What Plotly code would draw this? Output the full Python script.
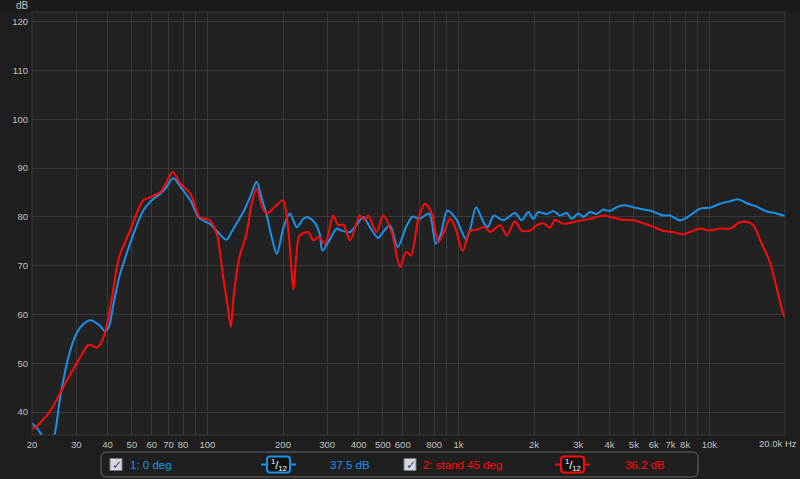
import plotly.graph_objects as go

# ---------------- data ----------------
blue_freq = [20, 21, 21.8, 22.6, 23.5, 24.5, 25.9, 27.9, 30.2, 32, 34.1, 36, 37.3, 39.1, 40.5, 42.2,
             44.7, 46.2, 50, 55.5, 60, 65, 68, 73, 78, 85.5, 93, 102, 110, 119, 125, 130, 139, 148,
             157, 164, 172, 180, 189, 201, 213, 227, 240, 249, 267, 280, 287, 308, 327, 342, 370,
             392, 417, 444, 478, 501, 533, 573, 618, 657, 697, 764, 812, 851, 903, 978, 1070, 1110,
             1176, 1258, 1306, 1386, 1509, 1680, 1786, 1898, 1987, 2080, 2247, 2388, 2538, 2700,
             2826, 3000, 3150, 3344, 3550, 3778, 4000, 4272, 4538, 4974, 5452, 5798, 6548, 6966,
             7634, 8366, 9170, 10054, 11016, 12076, 13032, 14078, 15432, 16910, 18252, 19690, 20000]
blue_db = [37.7, 36.6, 35.4, 34.2, 33.8, 35.1, 43.0, 51.2, 56.3, 58.0, 58.8, 58.3, 57.7, 56.6, 57.5, 62.1,
           68.0, 70.4, 75.6, 81.3, 83.4, 84.8, 85.8, 88.0, 86.2, 83.4, 79.7, 78.6, 76.9, 75.3, 77.0, 78.5, 81.0, 84.1,
           87.2, 84.0, 80.5, 76.0, 72.4, 77.9, 80.7, 77.9, 79.5, 80.0, 78.9, 76.5, 73.1, 75.5, 77.6, 77.2, 76.9,
           78.3, 80.0, 77.9, 75.7, 76.9, 78.3, 73.8, 77.9, 80.1, 79.6, 80.7, 74.5, 76.5, 81.3, 79.6, 75.5, 77.2,
           82.0, 78.9, 77.9, 80.3, 79.3, 80.8, 79.3, 81.0, 79.6, 81.0, 80.6, 81.2, 80.3, 80.8,
           79.6, 80.7, 80.0, 81.0, 80.6, 81.5, 81.2, 82.0, 82.4, 82.0, 81.5, 81.3, 80.3, 80.3,
           79.3, 80.3, 81.7, 81.9, 82.7, 83.2, 83.6, 82.8, 82.1, 81.1, 80.8, 80.3, 80.3]

red_freq = [20, 21, 22, 23.6, 25.5, 27.5, 30.2, 32, 33.5, 35, 36.2, 37.5, 39.1, 42.1, 43.3, 44.7, 49.2,
            55.5, 59.6, 65, 68.5, 72.6, 78, 85.5, 93, 102, 109, 112, 115.6, 120, 124, 127, 134, 143,
            150, 157, 165, 172, 185, 200, 210, 215, 220, 226, 233, 252, 264, 277, 294, 317, 332, 348,
            370, 405, 424, 437, 472, 501, 542, 585, 618, 647, 692, 736, 783, 831, 880, 925, 969, 1040,
            1110, 1180, 1276, 1336, 1466, 1557, 1680, 1786, 1928, 2052, 2180, 2316, 2425, 2616, 2960,
            3344, 3778, 4017, 4538, 4974, 5452, 5973, 6548, 7178, 7866, 8366, 9170, 10054, 11016,
            12076, 13235, 14285, 14950, 16155, 17424, 19690, 20000]
red_db = [36.5, 37.2, 38.3, 40.2, 43.2, 46.4, 50.1, 52.3, 53.8, 53.5, 53.2, 54.0, 56.3, 64.9, 69.0, 72.1, 77.2,
          83.4, 84.1, 85.1, 87.0, 89.2, 86.8, 84.8, 80.0, 79.3, 76.5, 73.0, 67.6, 62.2, 57.5, 63.5, 71.7, 76.5,
          82.7, 85.8, 82.0, 80.7, 82.0, 83.4, 77.2, 71.0, 65.0, 72.0, 76.2, 76.9, 75.2, 75.9, 74.5, 80.3, 78.3, 78.4,
          75.2, 80.3, 79.3, 80.3, 76.9, 80.3, 76.9, 69.7, 72.8, 72.1, 79.6, 82.7, 80.7, 74.8, 77.2, 79.6, 77.9, 73.0,
          77.1, 77.4, 77.9, 76.9, 78.3, 76.2, 79.1, 77.2, 77.2, 78.3, 78.7, 77.8, 79.4, 78.6, 79.1,
          79.6, 80.3, 80.0, 79.4, 79.3, 78.7, 78.0, 77.1, 76.9, 76.4, 76.9, 77.6, 77.2, 77.6,
          77.6, 78.9, 78.9, 78.3, 74.5, 70.7, 60.1, 59.5]

x_grid = [20, 30, 40, 50, 60, 70, 80, 90, 100, 200, 300, 400, 500, 600, 700, 800, 900,
          1000, 2000, 3000, 4000, 5000, 6000, 7000, 8000, 9000, 10000, 20000]
x_labels = ["20", "30", "40", "50", "60", "70", "80", "", "100", "200", "300", "400", "500", "600", "",
            "800", "", "1k", "2k", "3k", "4k", "5k", "6k", "7k", "8k", "", "10k", ""]
y_ticks = [40, 50, 60, 70, 80, 90, 100, 110, 120]

series_names = ["1: 0 deg", "2: stand 45 deg"]
series_levels = ["37.5 dB", "36.2 dB"]

BLUE = "#1a92ea"
RED = "#ff0a0a"

# ---------------- layout geometry (pixels) ----------------
W, H = 800, 479
L, R, T, B = 32, 15, 12, 44
PW, PH = W - L - R, H - T - B


def px(x):
    return (x - L) / PW


def py(y):
    return (H - B - y) / PH


fig = go.Figure()
fig.add_trace(go.Scatter(x=blue_freq, y=blue_db, mode="lines", name=series_names[0],
                         line=dict(color=BLUE, width=2, shape="spline", smoothing=0.8),
                         hoverinfo="x+y"))
fig.add_trace(go.Scatter(x=red_freq, y=red_db, mode="lines", name=series_names[1],
                         line=dict(color=RED, width=2, shape="spline", smoothing=0.8),
                         hoverinfo="x+y"))

shapes = []
annotations = []

# darker band above plot
shapes.append(dict(type="rect", xref="paper", yref="paper", x0=px(0), x1=px(W), y0=py(T), y1=py(0),
                   fillcolor="#1a1a1a", line=dict(width=0), layer="below"))
# plot border
shapes.append(dict(type="rect", xref="paper", yref="paper", x0=0, x1=1, y0=0, y1=1,
                   line=dict(color="#383838", width=1), fillcolor="rgba(0,0,0,0)"))


def rounded(x0, y0, x1, y1, r):
    rx = r / PW
    ry = r / PH
    X0, X1 = px(x0), px(x1)
    Y0, Y1 = py(y1), py(y0)  # bottom, top in paper
    return (f"M {X0+rx},{Y1} L {X1-rx},{Y1} Q {X1},{Y1} {X1},{Y1-ry} "
            f"L {X1},{Y0+ry} Q {X1},{Y0} {X1-rx},{Y0} L {X0+rx},{Y0} "
            f"Q {X0},{Y0} {X0},{Y0+ry} L {X0},{Y1-ry} Q {X0},{Y1} {X0+rx},{Y1} Z")


# legend box
shapes.append(dict(type="path", xref="paper", yref="paper", path=rounded(101, 452, 698, 477, 6),
                   line=dict(color="#6a6a6a", width=1), fillcolor="#1f1f1f"))

items = [
    dict(cb=110, name_x=128, icon=(261, 267, 290, 296), lvl_x=328, color=BLUE,
         name=series_names[0], lvl=series_levels[0]),
    dict(cb=404, name_x=421, icon=(555, 561, 584, 590), lvl_x=623, color=RED,
         name=series_names[1], lvl=series_levels[1]),
]
cy = 464.5
for it in items:
    # checkbox
    shapes.append(dict(type="rect", xref="paper", yref="paper", x0=px(it["cb"]), x1=px(it["cb"] + 12),
                       y0=py(cy + 6), y1=py(cy - 6), fillcolor="#d8d8dc", line=dict(color="#7a7a7a", width=1)))
    annotations.append(dict(xref="paper", yref="paper", x=px(it["cb"] + 6.5), y=py(cy), text="✓",
                            showarrow=False, xanchor="center", yanchor="middle",
                            font=dict(family="DejaVu Sans", size=12, color="#2c4c9c")))
    # name
    annotations.append(dict(xref="paper", yref="paper", x=px(it["name_x"]), y=py(cy), text=it["name"],
                            showarrow=False, xanchor="left", yanchor="middle",
                            font=dict(family="Liberation Sans", size=11.5, color=it["color"])))
    # smoothing icon
    a, b, c, d = it["icon"]
    shapes.append(dict(type="line", xref="paper", yref="paper", x0=px(a), x1=px(d), y0=py(cy), y1=py(cy),
                       line=dict(color=it["color"], width=2)))
    shapes.append(dict(type="path", xref="paper", yref="paper", path=rounded(b, cy - 8, c, cy + 8, 3),
                       line=dict(color=it["color"], width=2), fillcolor="#111111"))
    annotations.append(dict(xref="paper", yref="paper", x=px((b + c) / 2), y=py(cy), text="<sup>1</sup>/<sub>12</sub>",
                            showarrow=False, xanchor="center", yanchor="middle",
                            font=dict(family="Liberation Sans", size=11, color="#ffffff")))
    # level
    annotations.append(dict(xref="paper", yref="paper", x=px(it["lvl_x"]), y=py(cy), text=it["lvl"],
                            showarrow=False, xanchor="left", yanchor="middle",
                            font=dict(family="Liberation Sans", size=11.5, color=it["color"])))

# axis unit labels
annotations.append(dict(xref="paper", yref="paper", x=px(22), y=py(5), text="dB", showarrow=False,
                        xanchor="center", yanchor="middle",
                        font=dict(family="Liberation Sans", size=10, color="#c0c0c0")))
annotations.append(dict(xref="paper", yref="paper", x=px(799), y=py(444), text="20.0k Hz", showarrow=False,
                        xanchor="right", yanchor="middle",
                        font=dict(family="Liberation Sans", size=9.5, color="#c0c0c0")))

fig.update_layout(
    width=W, height=H,
    margin=dict(l=L, r=R, t=T, b=B, pad=0, autoexpand=False),
    paper_bgcolor="#1e1e1e",
    plot_bgcolor="#222222",
    showlegend=False,
    shapes=shapes,
    annotations=annotations,
    xaxis=dict(type="log", range=[1.30103, 4.30103], tickmode="array", tickvals=x_grid, ticktext=x_labels,
               showgrid=True, gridcolor="#3a3a3a", gridwidth=1, zeroline=False, showline=False,
               automargin=False,
               ticks="", tickfont=dict(family="Liberation Sans", size=9.5, color="#c0c0c0"),
               ticklabelstandoff=2),
    yaxis=dict(range=[35.3, 122], tickmode="array", tickvals=y_ticks, automargin=False,
               showgrid=True, gridcolor="#3a3a3a", gridwidth=1, zeroline=False, showline=False,
               ticks="", tickfont=dict(family="Liberation Sans", size=9.5, color="#c0c0c0"),
               ticklabelstandoff=3),
)

fig.write_html("out.html", config={"displayModeBar": False},
               post_script="document.body.style.margin='0';document.body.style.background='#1e1e1e';document.body.style.overflow='hidden';")
